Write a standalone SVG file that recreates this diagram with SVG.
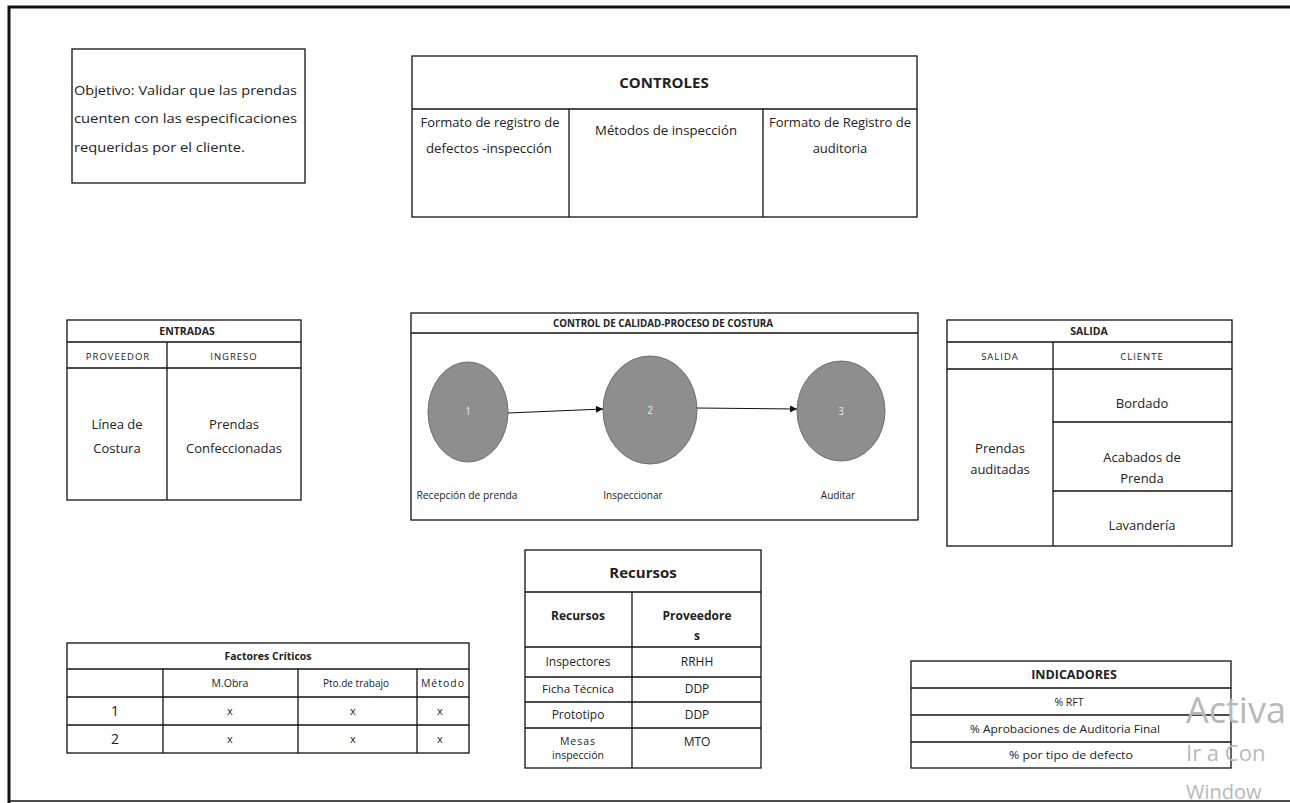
<svg xmlns="http://www.w3.org/2000/svg" width="1290" height="803" viewBox="0 0 1290 803">
<defs>
<style>
.b{fill:#fff;stroke:#111;stroke-width:1.3}
.l{stroke:#111;stroke-width:1.3;fill:none}
.t{font-family:"Open Sans","Noto Sans",sans-serif;fill:#222;text-anchor:middle}
.s14{font-size:13px}
.s10{font-size:10px}
.h10{font-size:10.5px;font-weight:bold}
.h14{font-size:15px;font-weight:bold}
.sm{font-size:9.5px;letter-spacing:1px}
.cir{fill:#8e8e8e;stroke:#6e6e6e;stroke-width:1}
.num{font-family:"Open Sans",sans-serif;font-size:10px;fill:#ececec;text-anchor:middle}
.wm{font-family:"Open Sans","Noto Sans",sans-serif;fill:#b8b8b8}
</style>
<marker id="arr" viewBox="0 0 10 10" refX="10" refY="5" markerWidth="7" markerHeight="7" orient="auto" markerUnits="userSpaceOnUse">
<path d="M0,0 L10,5 L0,10 z" fill="#111"/>
</marker>
</defs>
<rect width="1290" height="803" fill="#fff"/>
<g id="frame">
<path d="M9,803 L9,7 L1290,7" fill="none" stroke="#111" stroke-width="3"/>
<line x1="9" y1="801" x2="1290" y2="801" stroke="#111" stroke-width="1.5"/>
</g>
<g id="objetivo">
<rect class="b" x="72" y="49" width="233" height="134"/>
<text class="t s14" style="text-anchor:start" x="74" y="95" textLength="223" lengthAdjust="spacingAndGlyphs">Objetivo: Validar que las prendas</text>
<text class="t s14" style="text-anchor:start" x="74" y="123" textLength="223" lengthAdjust="spacingAndGlyphs">cuenten con las especificaciones</text>
<text class="t s14" style="text-anchor:start" x="74" y="152" textLength="171" lengthAdjust="spacingAndGlyphs">requeridas por el cliente.</text>
</g>
<g id="controles">
<rect class="b" x="412" y="56" width="505" height="161"/>
<line class="l" x1="412" y1="109" x2="917" y2="109"/>
<line class="l" x1="569" y1="109" x2="569" y2="217"/>
<line class="l" x1="763" y1="109" x2="763" y2="217"/>
<text class="t h14" x="664" y="88">CONTROLES</text>
<text class="t s14" x="490" y="127" textLength="139" lengthAdjust="spacingAndGlyphs">Formato de registro de</text>
<text class="t s14" x="489" y="153" textLength="126" lengthAdjust="spacingAndGlyphs">defectos -inspección</text>
<text class="t s14" x="666" y="135" textLength="142" lengthAdjust="spacingAndGlyphs">Métodos de inspección</text>
<text class="t s14" x="840" y="127" textLength="142" lengthAdjust="spacingAndGlyphs">Formato de Registro de</text>
<text class="t s14" x="840" y="153">auditoria</text>
</g>
<g id="entradas">
<rect class="b" x="67" y="320" width="234" height="180"/>
<line class="l" x1="67" y1="342" x2="301" y2="342"/>
<line class="l" x1="67" y1="368" x2="301" y2="368"/>
<line class="l" x1="167" y1="342" x2="167" y2="500"/>
<text class="t h10" x="187" y="335">ENTRADAS</text>
<text class="t sm" x="118" y="360">PROVEEDOR</text>
<text class="t sm" x="234" y="360">INGRESO</text>
<text class="t s14" x="117" y="429">Línea de</text>
<text class="t s14" x="117" y="453">Costura</text>
<text class="t s14" x="234" y="429">Prendas</text>
<text class="t s14" x="234" y="453">Confeccionadas</text>
</g>
<g id="proceso">
<rect class="b" x="411" y="313" width="507" height="207" stroke-width="2"/>
<line class="l" x1="411" y1="333" x2="918" y2="333"/>
<text class="t h10" x="663" y="327" textLength="220" lengthAdjust="spacingAndGlyphs">CONTROL DE CALIDAD-PROCESO DE COSTURA</text>
</g>
<g id="nodo1">
<ellipse class="cir" cx="468" cy="412" rx="40" ry="50"/>
<text class="num" x="468" y="415">1</text>
<text class="t s10" x="467" y="499" textLength="101" lengthAdjust="spacingAndGlyphs">Recepción de prenda</text>
</g>
<g id="nodo2">
<ellipse class="cir" cx="650" cy="410" rx="47" ry="54"/>
<text class="num" x="650" y="414">2</text>
<text class="t s10" x="633" y="499">Inspeccionar</text>
</g>
<g id="nodo3">
<ellipse class="cir" cx="841" cy="411" rx="44" ry="50"/>
<text class="num" x="841" y="415">3</text>
<text class="t s10" x="838" y="499">Auditar</text>
</g>
<g id="connectors">
<line x1="508" y1="413" x2="603" y2="409" stroke="#111" stroke-width="1" marker-end="url(#arr)"/>
<line x1="697" y1="408" x2="797" y2="409" stroke="#111" stroke-width="1" marker-end="url(#arr)"/>
</g>
<g id="salida">
<rect class="b" x="947" y="320" width="285" height="226"/>
<line class="l" x1="947" y1="342" x2="1232" y2="342"/>
<line class="l" x1="947" y1="369" x2="1232" y2="369"/>
<line class="l" x1="1053" y1="342" x2="1053" y2="546"/>
<line class="l" x1="1053" y1="422" x2="1232" y2="422"/>
<line class="l" x1="1053" y1="491" x2="1232" y2="491"/>
<text class="t h10" x="1089" y="335">SALIDA</text>
<text class="t sm" x="1000" y="360">SALIDA</text>
<text class="t sm" x="1142" y="360">CLIENTE</text>
<text class="t s14" x="1142" y="408">Bordado</text>
<text class="t s14" x="1142" y="462">Acabados de</text>
<text class="t s14" x="1142" y="483">Prenda</text>
<text class="t s14" x="1142" y="530">Lavandería</text>
<text class="t s14" x="1000" y="453">Prendas</text>
<text class="t s14" x="1000" y="474">auditadas</text>
</g>
<g id="recursos">
<rect class="b" x="525" y="550" width="236" height="218"/>
<line class="l" x1="525" y1="592" x2="761" y2="592"/>
<line class="l" x1="525" y1="647" x2="761" y2="647"/>
<line class="l" x1="525" y1="677" x2="761" y2="677"/>
<line class="l" x1="525" y1="702" x2="761" y2="702"/>
<line class="l" x1="525" y1="728" x2="761" y2="728"/>
<line class="l" x1="632" y1="592" x2="632" y2="768"/>
<text class="t h14" x="643" y="578">Recursos</text>
<text class="t" style="font-size:12px;font-weight:bold" x="578" y="620">Recursos</text>
<text class="t" style="font-size:12px;font-weight:bold" x="697" y="620">Proveedore</text>
<text class="t" style="font-size:12px;font-weight:bold" x="697" y="640">s</text>
<text class="t" style="font-size:12px" x="578" y="666">Inspectores</text>
<text class="t" style="font-size:12px" x="697" y="666">RRHH</text>
<text class="t" style="font-size:11.5px" x="578" y="693" textLength="72" lengthAdjust="spacingAndGlyphs">Ficha Técnica</text>
<text class="t" style="font-size:12px" x="697" y="693">DDP</text>
<text class="t" style="font-size:12px" x="578" y="719">Prototipo</text>
<text class="t" style="font-size:12px" x="697" y="719">DDP</text>
<text class="t" style="font-size:10.5px;letter-spacing:1px" x="578" y="745">Mesas</text>
<text class="t" style="font-size:10.5px" x="578" y="759">inspección</text>
<text class="t" style="font-size:12px" x="697" y="746">MTO</text>
</g>
<g id="factores">
<rect class="b" x="67" y="643" width="402" height="110"/>
<line class="l" x1="67" y1="669" x2="469" y2="669"/>
<line class="l" x1="67" y1="697" x2="469" y2="697"/>
<line class="l" x1="67" y1="725" x2="469" y2="725"/>
<line class="l" x1="163" y1="669" x2="163" y2="753"/>
<line class="l" x1="298" y1="669" x2="298" y2="753"/>
<line class="l" x1="417" y1="669" x2="417" y2="753"/>
<text class="t h10" x="268" y="660">Factores Críticos</text>
<text class="t" style="font-size:10.5px" x="230" y="687">M.Obra</text>
<text class="t" style="font-size:10.5px" x="356" y="687" textLength="66" lengthAdjust="spacingAndGlyphs">Pto.de trabajo</text>
<text class="t" style="font-size:10.5px;letter-spacing:1px" x="443" y="687">Método</text>
<text class="t" style="font-size:14px" x="115" y="716">1</text>
<text class="t" style="font-size:11px" x="230" y="715">x</text>
<text class="t" style="font-size:11px" x="353" y="715">x</text>
<text class="t" style="font-size:11px" x="440" y="715">x</text>
<text class="t" style="font-size:14px" x="115" y="744">2</text>
<text class="t" style="font-size:11px" x="230" y="743">x</text>
<text class="t" style="font-size:11px" x="353" y="743">x</text>
<text class="t" style="font-size:11px" x="440" y="743">x</text>
</g>
<g id="indicadores">
<rect class="b" x="911" y="661" width="320" height="107"/>
<line class="l" x1="911" y1="688" x2="1231" y2="688"/>
<line class="l" x1="911" y1="715" x2="1231" y2="715"/>
<line class="l" x1="911" y1="742" x2="1231" y2="742"/>
<text class="t" style="font-size:12.5px;font-weight:bold" x="1074" y="679">INDICADORES</text>
<text class="t" style="font-size:10.5px" x="1069" y="706">% RFT</text>
<text class="t" style="font-size:10.5px" x="1065" y="733" textLength="190" lengthAdjust="spacingAndGlyphs">% Aprobaciones de Auditoria Final</text>
<text class="t" style="font-size:10.5px" x="1071" y="759" textLength="124" lengthAdjust="spacingAndGlyphs">% por tipo de defecto</text>
</g>
<g id="watermark">
<text class="wm" x="1186" y="723" style="font-size:36px">Activa</text>
<text class="wm" x="1186" y="761" style="font-size:22px">Ir a Con</text>
<text class="wm" x="1186" y="799" style="font-size:20px">Window</text>
</g>
</svg>
